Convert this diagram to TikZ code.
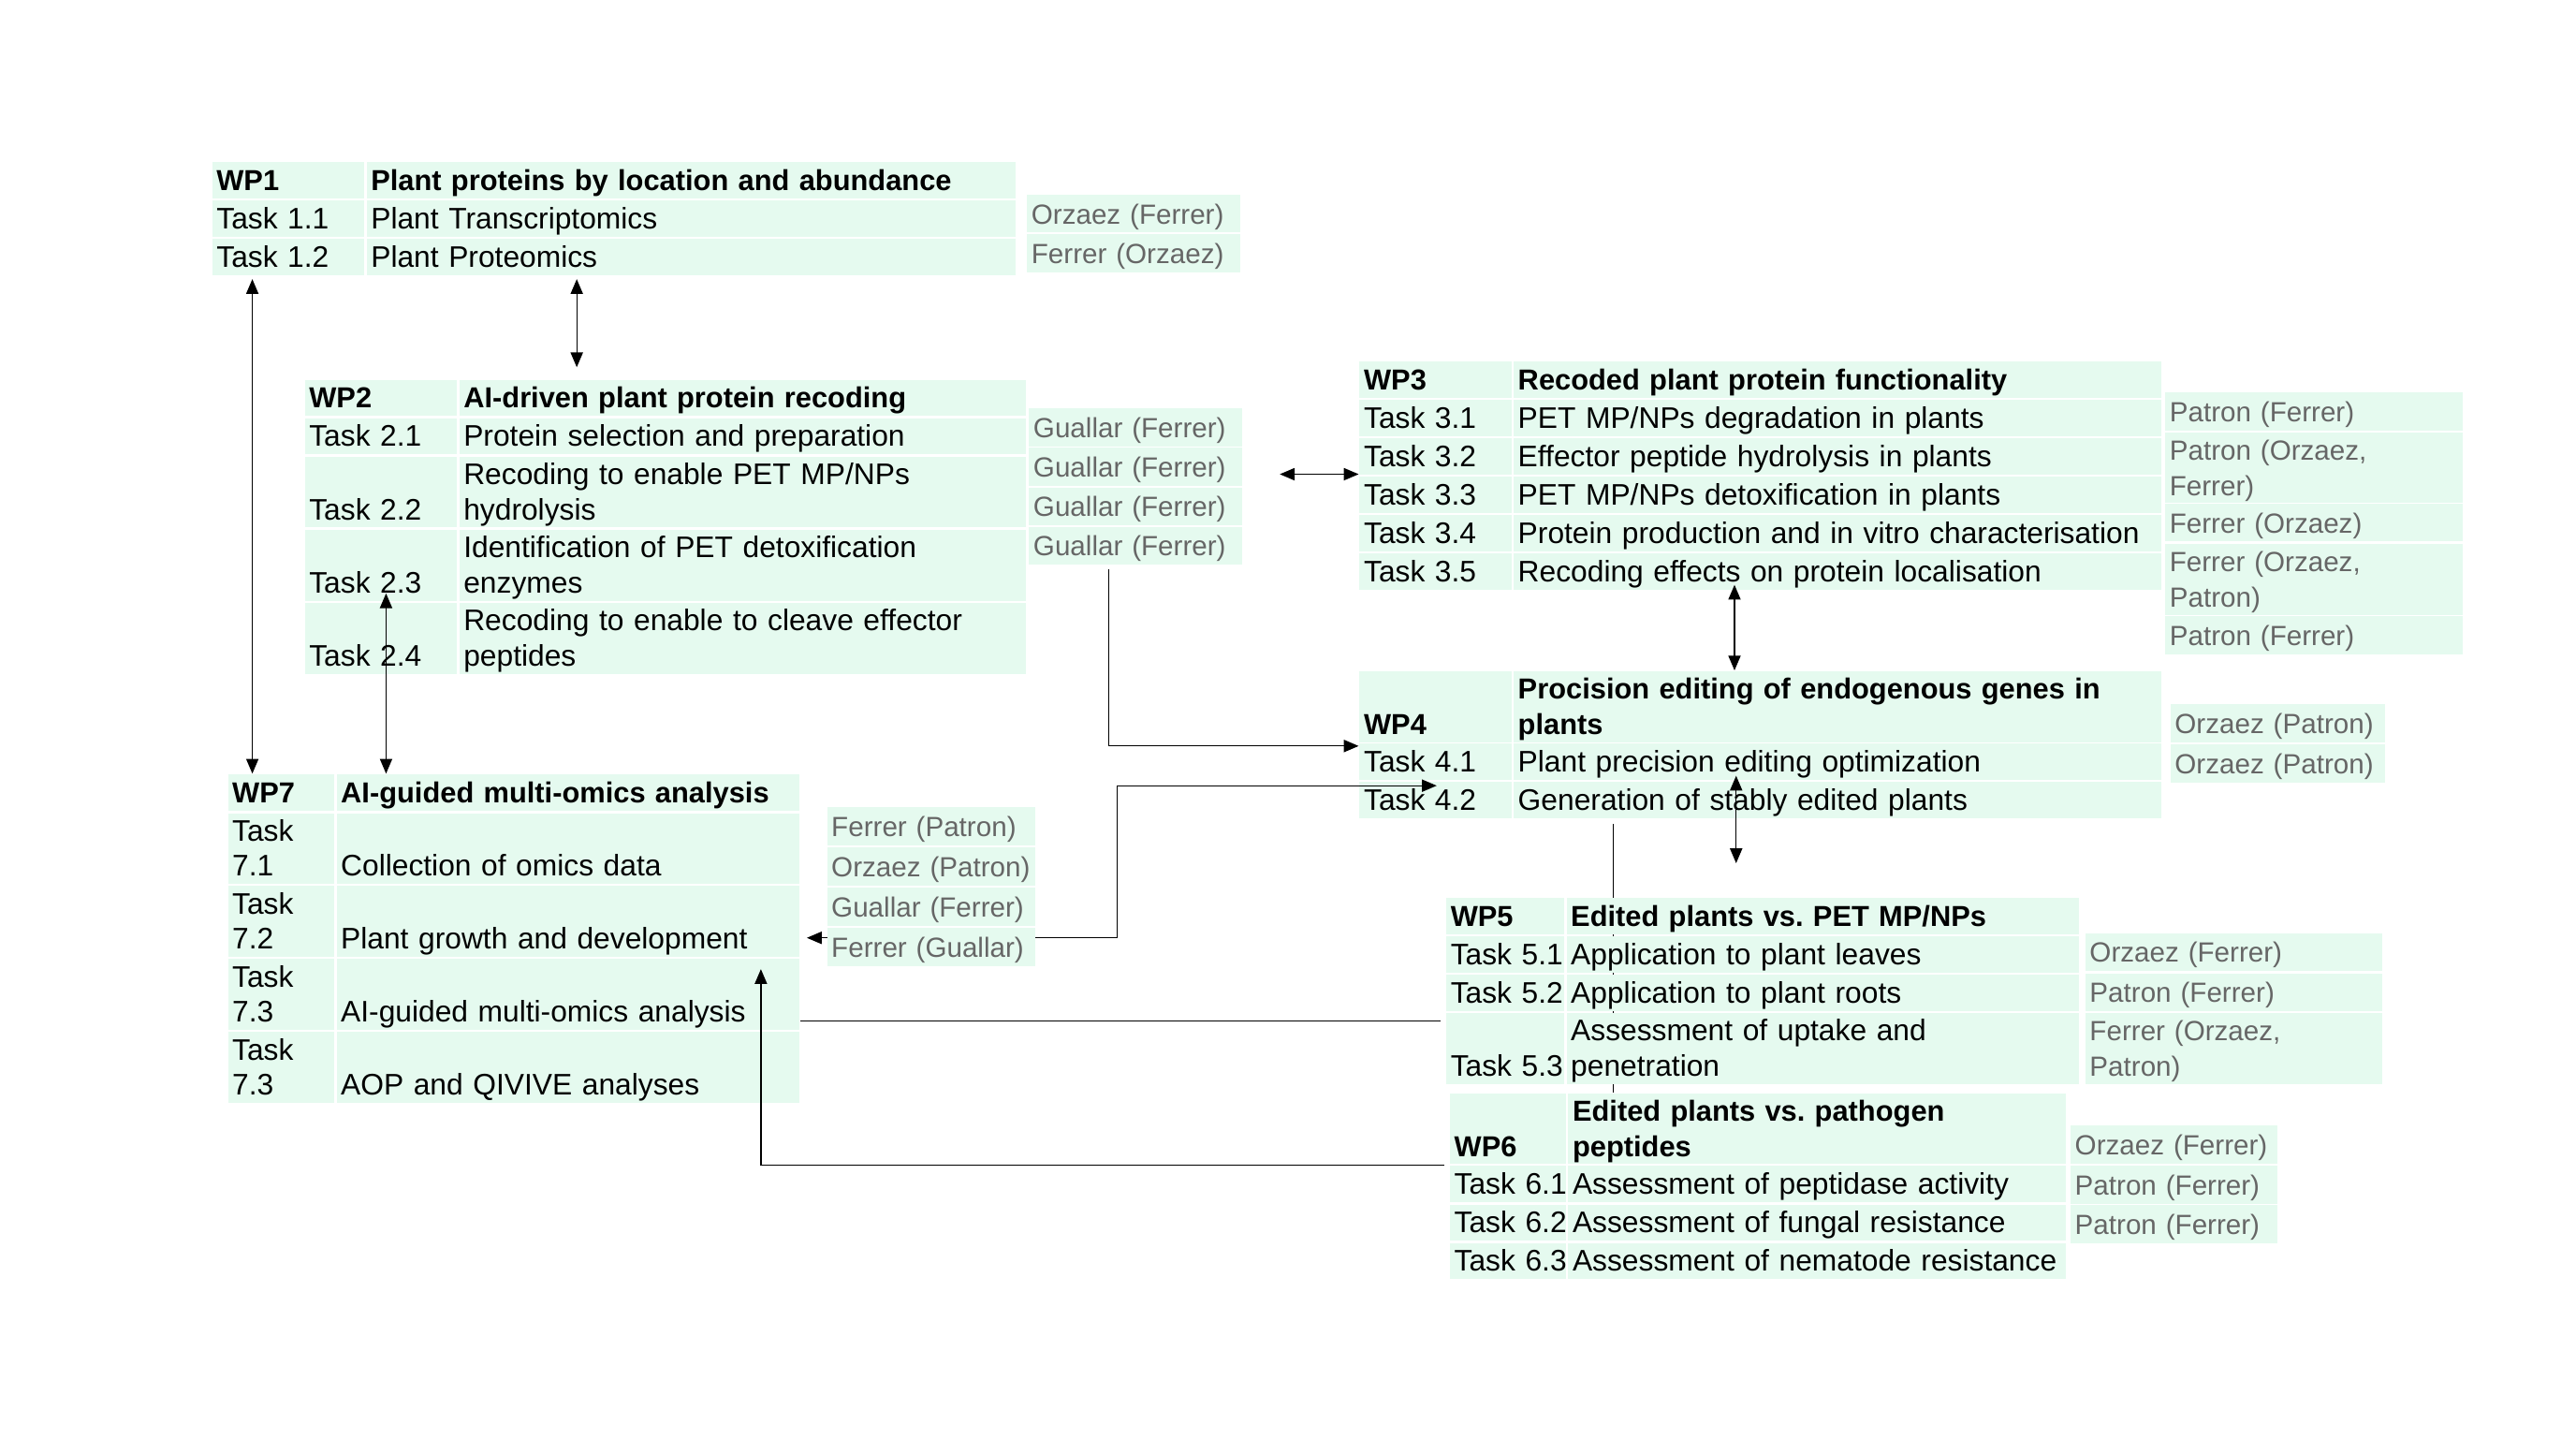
\documentclass[tikz,border=0pt]{standalone}
\usepackage{fontspec}
\setmainfont{Liberation Sans}
\usetikzlibrary{arrows.meta,backgrounds}
\definecolor{mint}{RGB}{229,250,239}
\newcommand\fs{\fontsize{10.3}{12.2}\selectfont\frenchspacing}
\newcommand\cstrut{\rule[-2.6pt]{0pt}{12.2pt}}

\begin{document}
\begin{tikzpicture}[x=0.02cm,y=-0.02cm,
  >={Triangle[length=0.18cm,width=0.15cm]}, line width=0.65pt,
  cell/.style={fill=mint, anchor=north west, inner xsep=1.5pt, inner ysep=0pt,
    align=left, font=\fs, execute at begin node=\cstrut, execute at end node=\cstrut},
  hd/.style={cell, font=\fs\fontsize{10}{12.2}\selectfont\bfseries},
  ld/.style={cell, text=black!60, font=\fs\fontsize{9.6}{12.2}\selectfont},
  sgl/.style={minimum height=0.44cm},
  dbl/.style={minimum height=0.86cm},
  lsg/.style={minimum height=0.46cm},
  w/.style={minimum width=#1, text width=#1-3pt}]
  \useasboundingbox (0,0) rectangle (1568,875.2);

  % WP1
  \node[hd,sgl,w=1.85cm] (a1-0) at (128.6,98) {WP1};
  \node[hd,sgl,w=7.9cm] (t1-0) at (222.6,98) {Plant proteins by location and abundance};
  \foreach \y/\id/\txt [count=\n] in {121.5/Task~1.1/Plant Transcriptomics,
      145/Task~1.2/Plant Proteomics} {
    \node[cell,sgl,w=1.85cm] (a1-\n) at (128.6,\y) {\id};
    \node[cell,sgl,w=7.9cm] (t1-\n) at (222.6,\y) {\txt};
  }
  \foreach \y/\txt [count=\n] in {118/Orzaez (Ferrer),142/Ferrer (Orzaez)}
    \node[ld,lsg,w=2.6cm] (l1-\n) at (624.6,\y) {\txt};

  % WP2
  \node[hd,sgl,w=1.85cm] (a2-0) at (185,230.5) {WP2};
  \node[hd,sgl,w=6.9cm] (t2-0) at (279,230.5) {AI-driven plant protein recoding};
  \foreach \y/\h/\id/\txt [count=\n] in {254/sgl/Task~2.1/Protein selection and preparation,
      277.5/dbl/\mbox{}\\Task~2.2/{Recoding to enable PET MP/NPs\\hydrolysis},
      322/dbl/\mbox{}\\Task~2.3/{Identification of PET detoxification\\enzymes},
      366.5/dbl/\mbox{}\\Task~2.4/{Recoding to enable to cleave effector\\peptides}} {
    \node[cell,\h,w=1.85cm] (a2-\n) at (185,\y) {\id};
    \node[cell,\h,w=6.9cm] (t2-\n) at (279,\y) {\txt};
  }
  \foreach \y [count=\n] in {248,272,296,320}
    \node[ld,lsg,w=2.6cm] (l2-\n) at (625.8,\y) {Guallar (Ferrer)};

  % WP3
  \node[hd,sgl,w=1.85cm] (a3-0) at (827,219.5) {WP3};
  \node[hd,sgl,w=7.88cm] (t3-0) at (920.8,219.5) {Recoded plant protein functionality};
  \foreach \y/\id/\txt [count=\n] in {242.9/Task~3.1/{PET MP/NPs degradation in plants},
      266.2/Task~3.2/Effector peptide hydrolysis in plants,
      289.6/Task~3.3/{PET MP/NPs detoxification in plants},
      312.9/Task~3.4/Protein production and in vitro characterisation,
      336.3/Task~3.5/Recoding effects on protein localisation} {
    \node[cell,sgl,w=1.85cm] (a3-\n) at (827,\y) {\id};
    \node[cell,sgl,w=7.88cm] (t3-\n) at (920.8,\y) {\txt};
  }
  \foreach \y/\h/\txt [count=\n] in {238.3/lsg/Patron (Ferrer),
      262.5/dbl/{Patron (Orzaez,\\Ferrer)}, 306/lsg/Ferrer (Orzaez),
      330.5/dbl/{Ferrer (Orzaez,\\Patron)}, 374.5/lsg/Patron (Ferrer)}
    \node[ld,\h,w=3.62cm] (l3-\n) at (1317.4,\y) {\txt};

  % WP4
  \node[hd,dbl,w=1.85cm] (a4-0) at (827,408) {\mbox{}\\WP4};
  \node[hd,dbl,w=7.88cm] (t4-0) at (920.8,408) {Procision editing of endogenous genes in\\plants};
  \foreach \y/\id/\txt [count=\n] in {452/Task~4.1/Plant precision editing optimization,
      475.3/Task~4.2/Generation of stably edited plants} {
    \node[cell,sgl,w=1.85cm] (a4-\n) at (827,\y) {\id};
    \node[cell,sgl,w=7.88cm] (t4-\n) at (920.8,\y) {\txt};
  }
  \foreach \y [count=\n] in {428,452.5}
    \node[ld,lsg,w=2.61cm] (l4-\n) at (1320.6,\y) {Orzaez (Patron)};

  % WP6
  \node[hd,dbl,w=1.41cm] (a6-0) at (882,664.8) {\mbox{}\\WP6};
  \node[hd,dbl,w=6.06cm] (t6-0) at (954,664.8) {Edited plants vs. pathogen\\peptides};
  \foreach \y/\id/\txt [count=\n] in {709/Task~6.1/Assessment of peptidase activity,
      732.5/Task~6.2/Assessment of fungal resistance,
      756/Task~6.3/Assessment of nematode resistance} {
    \node[cell,sgl,w=1.41cm] (a6-\n) at (882,\y) {\id};
    \node[cell,sgl,w=6.06cm] (t6-\n) at (954,\y) {\txt};
  }
  \foreach \y/\txt [count=\n] in {684.5/Orzaez (Ferrer),709/Patron (Ferrer),733/Patron (Ferrer)}
    \node[ld,lsg,w=2.52cm] (l6-\n) at (1259.8,\y) {\txt};

  % WP4 - WP6 (behind WP5)
  \begin{pgfonlayer}{background}
    \draw ([xshift=1.22cm,yshift=-0.06cm]t4-2.south west) coordinate (p9) -- (p9 |- t6-0.north);
  \end{pgfonlayer}

  % WP5
  \node[hd,sgl,w=1.43cm] (a5-0) at (880,546.3) {WP5};
  \node[hd,sgl,w=6.24cm] (t5-0) at (953.2,546.3) {Edited plants vs. PET MP/NPs};
  \foreach \y/\h/\id/\txt [count=\n] in {569.6/sgl/Task~5.1/Application to plant leaves,
      593/sgl/Task~5.2/Application to plant roots,
      616.3/dbl/\mbox{}\\Task~5.3/{Assessment of uptake and\\penetration}} {
    \node[cell,\h,w=1.43cm] (a5-\n) at (880,\y) {\id};
    \node[cell,\h,w=6.24cm] (t5-\n) at (953.2,\y) {\txt};
  }
  \foreach \y/\h/\txt [count=\n] in {567.5/lsg/Orzaez (Ferrer),592/lsg/Patron (Ferrer),
      616.3/dbl/{Ferrer (Orzaez,\\Patron)}}
    \node[ld,\h,w=3.61cm] (l5-\n) at (1269,\y) {\txt};

  % WP7
  \node[hd,sgl,w=1.29cm] (a7-0) at (138.4,470.8) {WP7};
  \node[hd,sgl,w=5.64cm] (t7-0) at (204.5,470.8) {AI-guided multi-omics analysis};
  \foreach \y/\id/\txt [count=\n] in {494.5/7.1/Collection of omics data,
      538.9/7.2/Plant growth and development, 583.3/7.3/AI-guided multi-omics analysis,
      627.7/7.3/AOP and QIVIVE analyses} {
    \node[cell,dbl,w=1.29cm] (a7-\n) at (138.4,\y) {Task\\\id};
    \node[cell,dbl,w=5.64cm] (t7-\n) at (204.5,\y) {\mbox{}\\\txt};
  }

  % Links
  \draw[<->, shorten <=1pt] ([xshift=0.5cm]a1-2.south west) coordinate (p1) -- (p1 |- a7-0.north);
  \draw[<->, shorten <=1pt, shorten >=0.14cm] ([xshift=2.57cm]t1-2.south west) coordinate (p2) -- (p2 |- t2-0.north);
  \draw[<->] ([xshift=1cm,yshift=0.1cm]a2-3.south west) coordinate (p3) -- (p3 |- t7-0.north);
  \draw[<->] ([xshift=-0.96cm,yshift=0.02cm]a3-3.north west) -- ([yshift=0.02cm]a3-3.north west);
  \draw[->] ([xshift=0.98cm,yshift=-0.05cm]l2-4.south west) |- ([yshift=-0.04cm]a4-1.north west);
  \draw[<->] ([xshift=2.7cm,yshift=0.07cm]t3-5.south west) coordinate (p6) -- (p6 |- t4-0.north);
  \coordinate (bend) at (680.2,520);
  \draw[<->] ([xshift=0.08cm,yshift=-0.2cm]t7-2.east) -| (bend)
    |- ([xshift=0.95cm,yshift=-0.06cm]a4-1.south west);
  \draw[<->, shorten >=0.42cm] ([xshift=2.72cm,yshift=0.06cm]t4-1.south west) coordinate (p8) -- (p8 |- t5-0.north);
  \draw ([xshift=-0.06cm,yshift=-0.1cm]a5-3.north west) coordinate (p10) -- (p10 -| t7-3.east);
  \draw[->] ([xshift=-0.06cm]a6-0.south west) -| ([xshift=-0.48cm,yshift=-0.13cm]t7-3.north east);

  % WP7 leaders
  \foreach \y/\txt [count=\n] in {491/Ferrer (Patron),515.5/Orzaez (Patron),
      540/Guallar (Ferrer),564.5/Ferrer (Guallar)}
    \node[ld,lsg,w=2.54cm] (l7-\n) at (503.1,\y) {\txt};
\end{tikzpicture}
\end{document}
